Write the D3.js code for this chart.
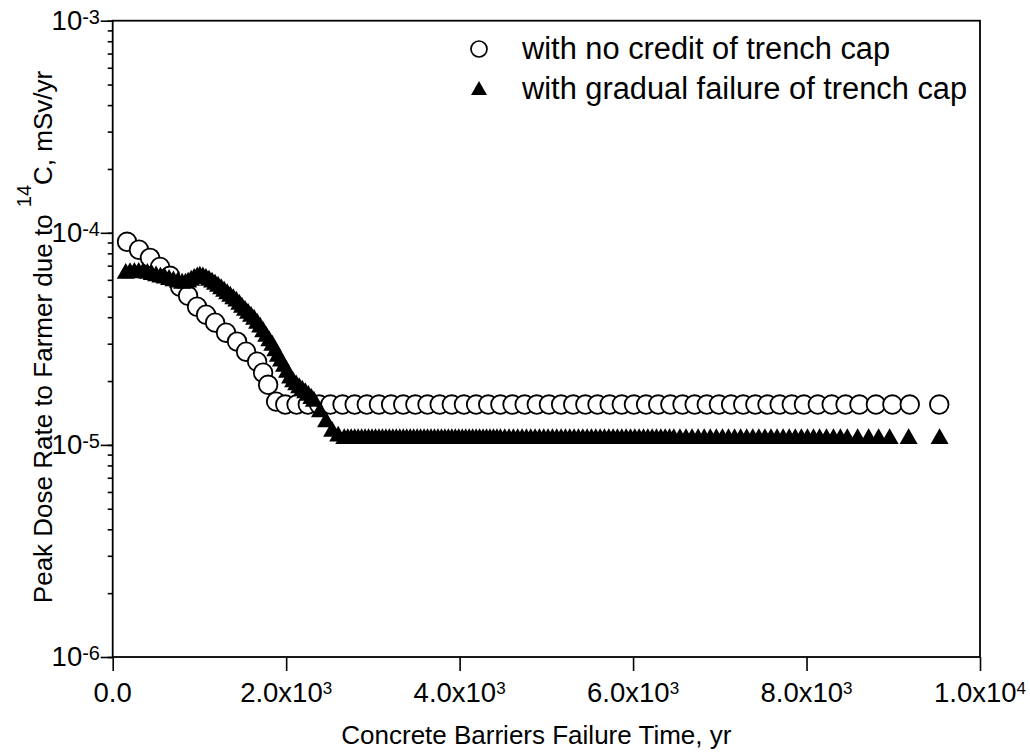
<!DOCTYPE html>
<html>
<head>
<meta charset="utf-8">
<script src="https://cdn.jsdelivr.net/npm/d3@7"></script>
<style>
    body { margin: 0; background: #fff; }
    text { font-family: "Liberation Sans", Arial, sans-serif; fill: #000; }
</style>
</head>
<body>
<svg id="chart" width="1030" height="752"></svg>
<script>
// [failure time (yr), peak dose rate (mSv/yr)]
var noCreditPts = [
    [165, 9.07e-5], [303, 8.32e-5], [430, 7.62e-5], [546, 6.91e-5], [661, 6.27e-5], [777, 5.57e-5],
    [869, 5.05e-5], [973, 4.48e-5], [1077, 4.11e-5], [1181, 3.77e-5], [1307, 3.38e-5], [1434, 3.07e-5],
    [1538, 2.75e-5], [1665, 2.47e-5], [1734, 2.19e-5], [1792, 1.92e-5], [1884, 1.60e-5],
    [1990, 1.55e-5], [2120, 1.55e-5], [2250, 1.55e-5], [2380, 1.55e-5], [2510, 1.55e-5], [2650, 1.55e-5],
    [2790, 1.55e-5], [2930, 1.55e-5], [3070, 1.55e-5], [3210, 1.55e-5], [3350, 1.55e-5], [3490, 1.55e-5],
    [3630, 1.55e-5], [3770, 1.55e-5], [3910, 1.55e-5], [4050, 1.55e-5], [4190, 1.55e-5], [4330, 1.55e-5],
    [4470, 1.55e-5], [4610, 1.55e-5], [4750, 1.55e-5], [4890, 1.55e-5], [5030, 1.55e-5], [5170, 1.55e-5],
    [5310, 1.55e-5], [5450, 1.55e-5], [5590, 1.55e-5], [5730, 1.55e-5], [5870, 1.55e-5], [6010, 1.55e-5],
    [6150, 1.55e-5], [6290, 1.55e-5], [6430, 1.55e-5], [6570, 1.55e-5], [6710, 1.55e-5], [6850, 1.55e-5],
    [6990, 1.55e-5], [7130, 1.55e-5], [7270, 1.55e-5], [7410, 1.55e-5], [7550, 1.55e-5], [7690, 1.55e-5],
    [7830, 1.55e-5], [7970, 1.55e-5], [8130, 1.55e-5], [8290, 1.55e-5], [8450, 1.55e-5], [8610, 1.55e-5],
    [8800, 1.55e-5], [8990, 1.55e-5], [9190, 1.55e-5], [9530, 1.55e-5]
];

var gradualPts = [
    [150, 6.62e-5], [200, 6.66e-5], [250, 6.69e-5], [300, 6.69e-5], [350, 6.67e-5], [400, 6.62e-5],
    [450, 6.52e-5], [500, 6.44e-5], [550, 6.35e-5], [600, 6.28e-5], [650, 6.19e-5], [700, 6.10e-5],
    [750, 6.02e-5], [800, 5.94e-5], [840, 5.95e-5], [870, 6.01e-5], [905, 6.14e-5], [940, 6.27e-5],
    [975, 6.36e-5], [1005, 6.41e-5], [1040, 6.36e-5], [1075, 6.27e-5], [1110, 6.14e-5], [1145, 6.01e-5],
    [1180, 5.88e-5], [1215, 5.75e-5], [1250, 5.60e-5], [1285, 5.45e-5], [1320, 5.30e-5], [1355, 5.16e-5],
    [1390, 5.02e-5], [1425, 4.89e-5], [1460, 4.73e-5], [1490, 4.58e-5], [1525, 4.43e-5], [1560, 4.29e-5],
    [1595, 4.15e-5], [1630, 4.02e-5], [1665, 3.85e-5], [1700, 3.69e-5], [1735, 3.51e-5], [1770, 3.34e-5],
    [1805, 3.18e-5], [1840, 3.03e-5], [1875, 2.85e-5], [1905, 2.69e-5], [1940, 2.55e-5], [1975, 2.41e-5],
    [2010, 2.26e-5], [2045, 2.12e-5], [2080, 2.04e-5], [2115, 1.97e-5], [2150, 1.91e-5], [2185, 1.86e-5],
    [2220, 1.81e-5], [2255, 1.76e-5], [2290, 1.70e-5], [2320, 1.65e-5], [2390, 1.47e-5], [2460, 1.32e-5],
    [2530, 1.19e-5], [2600, 1.13e-5],
    [2670, 1.10e-5], [2710, 1.10e-5], [2750, 1.10e-5], [2790, 1.10e-5], [2830, 1.10e-5], [2870, 1.10e-5],
    [2910, 1.10e-5], [2950, 1.10e-5], [2990, 1.10e-5], [3030, 1.10e-5], [3070, 1.10e-5], [3110, 1.10e-5],
    [3150, 1.10e-5], [3190, 1.10e-5], [3230, 1.10e-5], [3270, 1.10e-5], [3310, 1.10e-5], [3350, 1.10e-5],
    [3390, 1.10e-5], [3430, 1.10e-5], [3470, 1.10e-5], [3510, 1.10e-5], [3550, 1.10e-5], [3590, 1.10e-5],
    [3630, 1.10e-5], [3670, 1.10e-5], [3710, 1.10e-5], [3750, 1.10e-5], [3790, 1.10e-5], [3830, 1.10e-5],
    [3870, 1.10e-5], [3910, 1.10e-5], [3950, 1.10e-5], [3990, 1.10e-5], [4030, 1.10e-5], [4070, 1.10e-5],
    [4110, 1.10e-5], [4150, 1.10e-5], [4190, 1.10e-5], [4230, 1.10e-5], [4270, 1.10e-5], [4310, 1.10e-5],
    [4350, 1.10e-5], [4390, 1.10e-5], [4430, 1.10e-5], [4470, 1.10e-5], [4520, 1.10e-5], [4570, 1.10e-5],
    [4620, 1.10e-5], [4670, 1.10e-5], [4720, 1.10e-5], [4770, 1.10e-5], [4820, 1.10e-5], [4870, 1.10e-5],
    [4920, 1.10e-5], [4970, 1.10e-5], [5020, 1.10e-5], [5070, 1.10e-5], [5120, 1.10e-5], [5170, 1.10e-5],
    [5220, 1.10e-5], [5270, 1.10e-5], [5320, 1.10e-5], [5370, 1.10e-5], [5420, 1.10e-5], [5470, 1.10e-5],
    [5520, 1.10e-5], [5570, 1.10e-5], [5620, 1.10e-5], [5670, 1.10e-5], [5720, 1.10e-5], [5770, 1.10e-5],
    [5820, 1.10e-5], [5870, 1.10e-5], [5920, 1.10e-5], [5970, 1.10e-5], [6020, 1.10e-5], [6070, 1.10e-5],
    [6120, 1.10e-5], [6170, 1.10e-5], [6220, 1.10e-5], [6270, 1.10e-5], [6320, 1.10e-5], [6370, 1.10e-5],
    [6420, 1.10e-5], [6470, 1.10e-5], [6540, 1.10e-5], [6610, 1.10e-5], [6680, 1.10e-5], [6750, 1.10e-5],
    [6820, 1.10e-5], [6890, 1.10e-5], [6960, 1.10e-5], [7030, 1.10e-5], [7100, 1.10e-5], [7170, 1.10e-5],
    [7240, 1.10e-5], [7310, 1.10e-5], [7380, 1.10e-5], [7450, 1.10e-5], [7520, 1.10e-5], [7590, 1.10e-5],
    [7660, 1.10e-5], [7730, 1.10e-5], [7800, 1.10e-5], [7870, 1.10e-5], [7940, 1.10e-5], [8010, 1.10e-5],
    [8080, 1.10e-5], [8150, 1.10e-5], [8230, 1.10e-5], [8310, 1.10e-5], [8390, 1.10e-5], [8470, 1.10e-5],
    [8589, 1.10e-5], [8716, 1.10e-5], [8831, 1.10e-5], [8958, 1.10e-5], [9177, 1.10e-5], [9534, 1.10e-5]
];

var xTicks = [0, 2000, 4000, 6000, 8000, 10000];
var xTickBase = ['0.0', '2.0x10', '4.0x10', '6.0x10', '8.0x10', '1.0x10'];
var xTickExp = ['', '3', '3', '3', '3', '4'];
var yTicks = [1e-6, 1e-5, 1e-4, 1e-3];
var yTickExp = ['-6', '-5', '-4', '-3'];
var legendLabels = ['with no credit of trench cap', 'with gradual failure of trench cap'];

var svg = d3.select('#chart');
var plotL = 112.7, plotR = 980, plotT = 20.7, plotB = 657;

var x = d3.scaleLinear().domain([0, 10000]).range([plotL, plotR]);
var y = d3.scaleLog().domain([1e-6, 1e-3]).range([plotB, plotT]);

// triangle centred on its bounding box, like the original plotting package
var triangle = {
    draw: function(ctx, size) {
        var w = Math.sqrt(size), h = w * 0.88;
        ctx.moveTo(0, -h / 2);
        ctx.lineTo(w / 2, h / 2);
        ctx.lineTo(-w / 2, h / 2);
        ctx.closePath();
    }
};

function styleTicks(g) {
    g.select('.domain').remove();
    g.selectAll('line').attr('stroke', '#000').attr('stroke-width', 1.6);
}

// y minor ticks
svg.append('g')
    .attr('transform', 'translate(' + plotL + ',0)')
    .call(d3.axisLeft(y).tickValues(y.ticks()).tickSize(5).tickSizeOuter(0).tickFormat(''))
    .call(styleTicks);

// y major ticks
svg.append('g')
    .attr('transform', 'translate(' + plotL + ',0)')
    .call(d3.axisLeft(y).tickValues(yTicks).tickSize(12).tickSizeOuter(0).tickFormat(''))
    .call(styleTicks);

// x ticks
svg.append('g')
    .attr('transform', 'translate(0,' + plotB + ')')
    .call(d3.axisBottom(x).tickValues(xTicks).tickSize(14).tickSizeOuter(0).tickFormat(''))
    .call(styleTicks);

// frame
svg.append('rect')
    .attr('x', plotL).attr('y', plotT)
    .attr('width', plotR - plotL).attr('height', plotB - plotT)
    .attr('fill', 'none').attr('stroke', '#000').attr('stroke-width', 1.8);

// x tick labels
var xl = svg.append('g').selectAll('text').data(xTicks).enter().append('text')
    .attr('x', d => x(d)).attr('y', 702)
    .attr('text-anchor', 'middle').style('font-size', '27.5px');
xl.append('tspan').text((d, i) => xTickBase[i]);
xl.append('tspan').style('font-size', '17px').attr('dy', -8).text((d, i) => xTickExp[i]);

// y tick labels
var yl = svg.append('g').selectAll('text').data(yTicks).enter().append('text')
    .attr('x', 100).attr('y', d => y(d) + 9)
    .attr('text-anchor', 'end').style('font-size', '27.5px');
yl.append('tspan').text('10');
yl.append('tspan').style('font-size', '20px').attr('dy', -6).text((d, i) => yTickExp[i]);

// axis titles
svg.append('text')
    .attr('x', (plotL + plotR) / 2 - 10).attr('y', 744)
    .attr('text-anchor', 'middle').style('font-size', '26px')
    .text('Concrete Barriers Failure Time, yr');

var yt = svg.append('text')
    .attr('transform', 'translate(52,337) rotate(-90)')
    .attr('text-anchor', 'middle').style('font-size', '26px');
yt.append('tspan').text('Peak Dose Rate to Farmer due to ');
yt.append('tspan').style('font-size', '20px').attr('dy', -21).text('14');
yt.append('tspan').attr('dy', 21).text('C, mSv/yr');

// series
svg.append('g').selectAll('circle').data(noCreditPts).enter().append('circle')
    .attr('cx', d => x(d[0])).attr('cy', d => y(d[1])).attr('r', 9.3)
    .attr('fill', '#fff').attr('stroke', '#000').attr('stroke-width', 1.8);

var tri = d3.symbol().type(triangle).size(324);
svg.append('g').selectAll('path').data(gradualPts).enter().append('path')
    .attr('transform', d => 'translate(' + x(d[0]) + ',' + y(d[1]) + ')')
    .attr('d', tri).attr('fill', '#000');

// legend
var lg = svg.append('g');
lg.append('circle').attr('cx', 479).attr('cy', 49).attr('r', 8)
    .attr('fill', '#fff').attr('stroke', '#000').attr('stroke-width', 1.7);
lg.append('path').attr('transform', 'translate(479,88)')
    .attr('d', d3.symbol().type(triangle).size(256)).attr('fill', '#000');
lg.selectAll('text').data(legendLabels).enter().append('text')
    .attr('x', 522).attr('y', (d, i) => 59 + i * 40)
    .style('font-size', '30.8px').text(d => d);
</script>
</body>
</html>
